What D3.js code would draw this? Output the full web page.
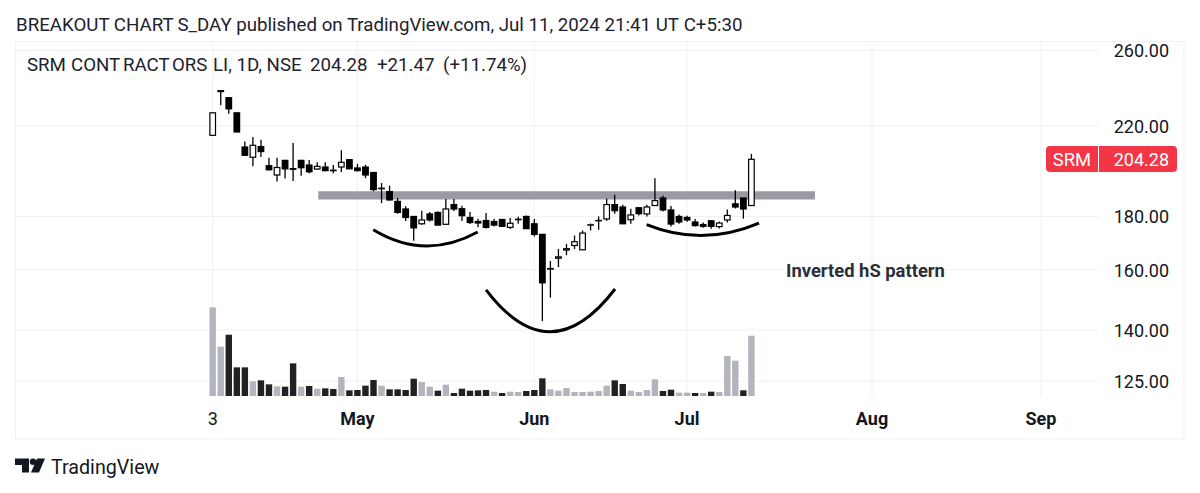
<!DOCTYPE html>
<html><head><meta charset="utf-8">
<script src="https://cdn.jsdelivr.net/npm/d3@7/dist/d3.min.js"></script>
<style>html,body{margin:0;background:#fff}svg{display:block}text{font-family:Roboto,sans-serif}</style>
</head><body><svg id="c" width="1200" height="493"></svg>
<script>
// Daily sessions for SRM Contractors, oldest first
const open = [215.4,237.3,234.1,226.4,209.9,205.2,210.1,201.4,197.3,203.8,200.1,203.8,201.7,199.9,200.8,199.4,200.8,204.1,200.4,200.8,198.4,191.6,190.2,186.1,183.0,180.0,177.1,181.0,181.6,176.9,184.8,183.1,179.6,178.0,178.4,178.0,178.8,175.7,178.7,180.0,177.1,173.0,160.2,164.1,167.1,168.8,167.2,176.6,178.3,179.0,184.8,183.8,178.7,183.5,181.0,184.4,187.5,182.6,180.0,179.6,177.8,176.8,178.3,176.0,178.6,185.1,187.5,184.4];
const high = [226.4,237.8,234.1,226.4,212.5,214.6,213.3,205.0,205.0,203.8,211.8,203.8,204.0,202.9,202.9,201.7,208.4,204.1,202.2,201.8,198.4,193.8,192.7,187.5,184.1,180.0,182.3,181.8,182.0,187.1,187.1,184.3,181.8,179.1,181.4,179.0,178.8,179.4,179.9,180.4,179.0,173.0,163.1,167.5,169.4,172.6,174.5,177.2,180.0,187.2,188.9,184.7,183.1,183.7,184.7,195.9,188.4,184.2,180.8,180.3,179.0,177.6,178.3,178.0,182.8,190.7,187.5,206.7];
const low = [215.4,230.2,225.9,217.0,206.1,201.1,205.3,199.3,194.5,195.8,194.7,197.0,198.1,199.6,198.9,198.1,198.6,200.0,198.9,195.9,190.3,185.4,186.4,181.1,178.2,170.6,176.7,178.0,176.4,176.9,182.2,178.2,177.0,175.7,175.3,176.0,176.1,175.1,177.1,175.1,172.2,142.8,150.4,160.9,165.2,167.5,167.2,174.5,174.8,178.3,181.1,177.0,177.1,180.4,180.0,184.4,182.0,176.0,177.1,177.9,176.0,175.6,175.2,175.3,177.6,183.2,179.1,184.4];
const close = [226.4,237.8,228.4,217.0,206.1,210.7,207.8,199.6,200.6,200.0,199.8,200.5,198.7,201.1,199.2,199.2,202.9,200.0,199.2,197.3,191.0,191.4,186.7,181.6,179.6,175.5,178.6,178.6,176.6,183.0,183.0,180.3,177.6,177.4,175.7,176.6,176.1,177.3,178.9,175.2,173.0,155.4,160.4,164.6,167.6,170.2,173.5,176.7,178.4,184.8,182.3,177.1,180.6,181.1,183.8,186.4,182.6,177.0,177.8,178.6,176.4,176.1,176.1,177.4,180.4,183.8,183.0,204.28];
// Session volume in relative units, and whether the volume bar is the pale kind
const volume = [266,148,184,86,86,44,47,35,29,28,98,28,30,22,23,21,57,17,18,31,48,31,20,20,18,52,42,28,16,34,9,22,16,17,18,13,9,13,12,15,18,53,20,16,24,12,12,13,15,31,47,36,16,12,18,50,15,19,10,10,9,9,13,12,120,106,17,181];
const paleVolume = [1,1,0,0,0,1,0,0,1,0,0,1,0,1,0,0,1,0,0,0,0,1,0,0,0,0,1,1,0,1,0,0,0,0,0,1,0,1,1,0,0,0,1,1,1,1,1,1,1,1,0,0,1,1,1,1,0,0,1,1,0,1,0,1,1,1,0,1];
const priceTicks = [260,220,180,160,140,125];
const timeTicks = [{at:0,label:"3",bold:false},{at:18,label:"May",bold:true},{at:40,label:"Jun",bold:true},{at:59,label:"Jul",bold:true},{at:82,label:"Aug",bold:true},{at:103,label:"Sep",bold:true}];
// Hand-drawn neckline and troughs of the pattern: [session, price] control points
const necklinePrice = 188.6;
const necklineSpan = [13.13,74.9];
const troughs = [
  [[19.97,174.8],[26.4,163.1],[32.96,173.9]],
  [[34,153],[41.95,127],[50.04,153.3]],
  [[53.97,176.8],[60.9,168.2],[67.95,177.4]]
];

const svg = d3.select("#c");
const x = d3.scaleLinear().domain([0,67]).range([212.7,751.4]);
const y = d3.scaleLog().domain([140,260]).range([330,50.3]);
const vy = d3.scaleLinear().domain([0,266]).range([396,307.4]);
const ink = "#000", grid = "#f0f1f4", textInk = "#131722";

// Pane frame and grid
const gridG = svg.append("g").attr("stroke",grid).attr("fill","none");
gridG.selectAll("line.h").data(priceTicks).join("line").attr("class","h")
  .attr("x1",15).attr("x2",1098).attr("y1",d=>y(d)).attr("y2",d=>y(d));
gridG.selectAll("line.v").data(timeTicks).join("line").attr("class","v")
  .attr("x1",d=>x(d.at)).attr("x2",d=>x(d.at)).attr("y1",41).attr("y2",396);
svg.append("rect").attr("x",15.5).attr("y",41.5).attr("width",1168.5).attr("height",397.5).attr("fill","none").attr("stroke",grid);

// Volume columns
svg.append("g").selectAll("rect").data(volume).join("rect")
  .attr("x",(d,i)=>x(i)-3.2).attr("width",6.4)
  .attr("y",d=>vy(d)).attr("height",d=>vy(0)-vy(d))
  .attr("fill",(d,i)=>paleVolume[i]?"#b2b5be":"#212121");

// Neckline band
svg.append("line").attr("x1",x(necklineSpan[0])).attr("x2",x(necklineSpan[1]))
  .attr("y1",y(necklinePrice)).attr("y2",y(necklinePrice))
  .attr("stroke","#9b9aa2").attr("stroke-width",8.3);

// Candles
const candles = svg.append("g").selectAll("g").data(d3.range(open.length)).join("g");
candles.append("line").attr("x1",i=>x(i)).attr("x2",i=>x(i))
  .attr("y1",i=>y(high[i])).attr("y2",i=>y(low[i])).attr("stroke",ink).attr("stroke-width",1.3);
candles.append("rect")
  .attr("x",i=>x(i)-2.8).attr("width",5.6)
  .attr("y",i=>y(Math.max(open[i],close[i])))
  .attr("height",i=>Math.max(0.3,Math.abs(y(open[i])-y(close[i]))))
  .attr("fill",i=>close[i]>=open[i]?"#fff":ink).attr("stroke",ink).attr("stroke-width",1.2);

// Pattern troughs
const curve = p=>`M${x(p[0][0])},${y(p[0][1])}Q${x(p[1][0])},${y(p[1][1])} ${x(p[2][0])},${y(p[2][1])}`;
svg.append("g").selectAll("path").data(troughs).join("path").attr("d",curve)
  .attr("fill","none").attr("stroke",ink).attr("stroke-width",3);

// Price scale labels
svg.append("g").selectAll("text").data(priceTicks).join("text")
  .attr("x",1169).attr("y",d=>y(d)+7).attr("text-anchor","end")
  .attr("font-size",18).attr("fill",textInk).text(d=>d3.format(".2f")(d));

// Time scale labels
svg.append("g").selectAll("text").data(timeTicks).join("text")
  .attr("x",d=>x(d.at)).attr("y",425).attr("text-anchor","middle")
  .attr("font-size",18).attr("font-weight",d=>d.bold?700:400).attr("fill",textInk).text(d=>d.label);

// Last price tag
const lastPrice = close[close.length-1];
const tag = svg.append("g");
tag.append("rect").attr("x",1046).attr("y",146).attr("width",131).attr("height",26).attr("rx",4).attr("fill","#f23645");
tag.append("line").attr("x1",1098.5).attr("x2",1098.5).attr("y1",146).attr("y2",172).attr("stroke","#fff");
tag.append("text").attr("x",1072).attr("y",165.5).attr("text-anchor","middle").attr("font-size",18.4).attr("fill","#fff").text("SRM");
tag.append("text").attr("x",1169).attr("y",165.5).attr("text-anchor","end").attr("font-size",18).attr("fill","#fff").text(d3.format(".2f")(lastPrice));

// Publisher line, with its wide letter gaps
const headline = svg.append("text").attr("x",16).attr("y",31).attr("font-size",18.7).attr("fill","#1e222d");
headline.append("tspan").text("BREAKOUT CHART");
headline.append("tspan").attr("dx",4).text("S_DAY published on TradingView.com, Jul 11, 2024 21:41 UT");
headline.append("tspan").attr("dx",5).text("C+5:30");

// Symbol legend, placed word by word
const legendWords = [["SRM",27],["CONT",71],["RACT",123],["ORS",172],["LI, 1D, NSE",213],["204.28",310],["+21.47",377],["(+11.74%)",443]];
svg.append("text").attr("y",71).attr("font-size",18.7).attr("fill","#1e222d")
  .selectAll("tspan").data(legendWords).join("tspan").attr("x",d=>d[1]).text(d=>d[0]);

svg.append("text").attr("x",786).attr("y",277).attr("font-size",18.4).attr("font-weight",700).attr("fill","#2a2e39").text("Inverted hS pattern");

// TradingView mark and wordmark
const logo = svg.append("g").attr("transform","translate(15,458.5)").attr("fill","#131722");
logo.append("path").attr("d","M0,0H14V14H7V6.5H0Z");
logo.append("circle").attr("cx",18).attr("cy",3.2).attr("r",3.2);
logo.append("path").attr("d","M22,0H30L24,14H16Z");
svg.append("text").attr("x",51).attr("y",473.5).attr("font-size",19.7).attr("fill","#131722").text("TradingView");
</script></body></html>
